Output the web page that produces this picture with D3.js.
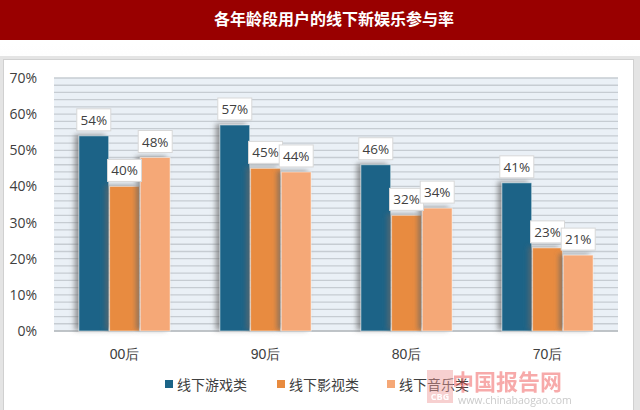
<!DOCTYPE html>
<html><head><meta charset="utf-8">
<script src="https://cdn.jsdelivr.net/npm/d3@7/dist/d3.min.js"></script>
<style>body{margin:0;background:#fff;}svg{display:block;font-family:"Open Sans","Noto Sans CJK SC",sans-serif;}</style>
</head><body><svg id="c" width="640" height="410"></svg>
<script>
const title = "各年龄段用户的线下新娱乐参与率";
const categories = ["00后","90后","80后","70后"];
const seriesNames = ["线下游戏类","线下影视类","线下音乐类"];
const seriesColors = ["#1b6487","#e88b3f","#f5a877"];
const gameValues = [54,57,46,41];
const movieValues = [40,45,32,23];
const musicValues = [48,44,34,21];
const yTicks = [0,10,20,30,40,50,60,70];

const svg = d3.select("#c");
const W=640,H=410;
const m={l:54,r:618,t:78,b:331};
const defs = svg.append("defs");
const f = defs.append("filter").attr("id","sh").attr("x","-40%").attr("y","-20%").attr("width","160%").attr("height","140%");
f.append("feDropShadow").attr("dx",-4).attr("dy",-1).attr("stdDeviation",2.5).attr("flood-color","#666").attr("flood-opacity",0.65);
const g2 = defs.append("linearGradient").attr("id","hg").attr("x1",0).attr("y1",0).attr("x2",0).attr("y2",1);
g2.append("stop").attr("offset","0").attr("stop-color","#fff");
g2.append("stop").attr("offset","1").attr("stop-color","#d8d8d8");

// title band
svg.append("rect").attr("x",0).attr("y",0).attr("width",W).attr("height",40).attr("fill","#990000");
svg.append("text").attr("x",334).attr("y",25).attr("text-anchor","middle").attr("fill","#fff")
  .attr("font-size",16).attr("font-weight","bold").attr("font-family","'Noto Sans CJK SC',sans-serif").text(title);
// grey band / panel
svg.append("rect").attr("x",0).attr("y",44).attr("width",W).attr("height",H-44).attr("fill","url(#hg)");
svg.append("rect").attr("x",0).attr("y",56).attr("width",W).attr("height",H-56).attr("fill","#e4e4e4");
svg.append("rect").attr("x",3.5).attr("y",59.5).attr("width",630).attr("height",H).attr("fill","#fff").attr("stroke","#d0d0d0");

const x0 = d3.scaleBand().domain(categories).range([m.l,m.r]).paddingInner(0.34).paddingOuter(0.17);
const x1 = d3.scaleBand().domain(seriesNames).range([0,x0.bandwidth()]).padding(0.03);
const y = d3.scaleLinear().domain([0,70]).range([m.b,m.t]);

// plot background and stripes
svg.append("rect").attr("x",m.l).attr("y",m.t).attr("width",m.r-m.l).attr("height",m.b-m.t).attr("fill","#eaf0f6");
svg.append("g").selectAll("line").data(d3.range(0,71,2)).join("line")
  .attr("x1",m.l).attr("x2",m.r).attr("y1",d=>y(d)).attr("y2",d=>y(d))
  .attr("stroke","#c6ccd2").attr("stroke-width",1.3);
svg.append("line").attr("x1",m.l).attr("x2",m.r).attr("y1",m.b).attr("y2",m.b).attr("stroke","#b8bcc0").attr("stroke-width",1.5);

// y axis
const ya = svg.append("g").attr("transform",`translate(${m.l-14},0)`)
  .call(d3.axisLeft(y).tickValues(yTicks).tickSize(0).tickFormat(d=>d+"%"));
ya.select(".domain").remove();
ya.selectAll("text").attr("font-size",14).attr("fill","#404040").attr("font-family","'Open Sans',sans-serif");

// x axis
const xa = svg.append("g").attr("transform",`translate(0,${m.b+12})`).call(d3.axisBottom(x0).tickSize(0));
xa.select(".domain").remove();
xa.selectAll("text").attr("font-size",14).attr("fill","#404040").attr("dy","0.9em");

const table = categories.map((c,i)=>({c,vals:[gameValues[i],movieValues[i],musicValues[i]]}));
const groups = svg.append("g").selectAll("g").data(table).join("g").attr("transform",d=>`translate(${x0(d.c)},0)`);
groups.selectAll("rect").data(d=>d.vals.map((v,j)=>({v,s:seriesNames[j],j}))).join("rect")
  .attr("x",d=>x1(d.s)).attr("width",x1.bandwidth()).attr("y",d=>y(d.v)).attr("height",d=>y(0)-y(d.v))
  .attr("fill",d=>seriesColors[d.j]).attr("stroke","#ffffff").attr("stroke-opacity",0.5).attr("stroke-width",1)
  .attr("filter","url(#sh)");

// labels
const lab = groups.selectAll("g.lab").data(d=>d.vals.map((v,j)=>({v,s:seriesNames[j],j}))).join("g").attr("class","lab")
  .attr("transform",d=>`translate(${x1(d.s)+x1.bandwidth()/2},${y(d.v)-4})`);
lab.append("rect").attr("x",-17).attr("y",-23).attr("width",34).attr("height",22).attr("fill","#fff").attr("stroke","#d8d8d8");
lab.append("text").attr("y",-7).attr("text-anchor","middle").attr("font-size",13.5).attr("fill","#404040")
  .attr("font-family","'Open Sans',sans-serif").text(d=>d.v+"%");

// legend
const lg = svg.append("g");
const lx=[165,277,387];
seriesNames.forEach((s,i)=>{
  lg.append("rect").attr("x",lx[i]).attr("y",380).attr("width",8).attr("height",8).attr("fill",seriesColors[i]);
  lg.append("text").attr("x",lx[i]+12).attr("y",390).attr("font-size",14).attr("fill","#404040")
    .attr("font-family","'Noto Sans CJK SC',sans-serif").text(s);
});

// watermark
const wm = svg.append("g").attr("opacity",0.45);
wm.append("rect").attr("x",427).attr("y",370).attr("width",26).attr("height",33).attr("fill","#e99");
wm.append("text").attr("x",440).attr("y",400).attr("text-anchor","middle").attr("font-size",9).attr("font-weight","bold").attr("fill","#fff").text("CBG");
wm.append("text").attr("x",452).attr("y",390).attr("font-size",22).attr("font-weight","bold").attr("fill","#e44")
  .attr("font-family","'Noto Sans CJK SC',sans-serif").text("中国报告网");
wm.append("text").attr("x",458).attr("y",404).attr("font-size",10.5).attr("fill","#888").text("www.chinabaogao.com");
</script></body></html>
